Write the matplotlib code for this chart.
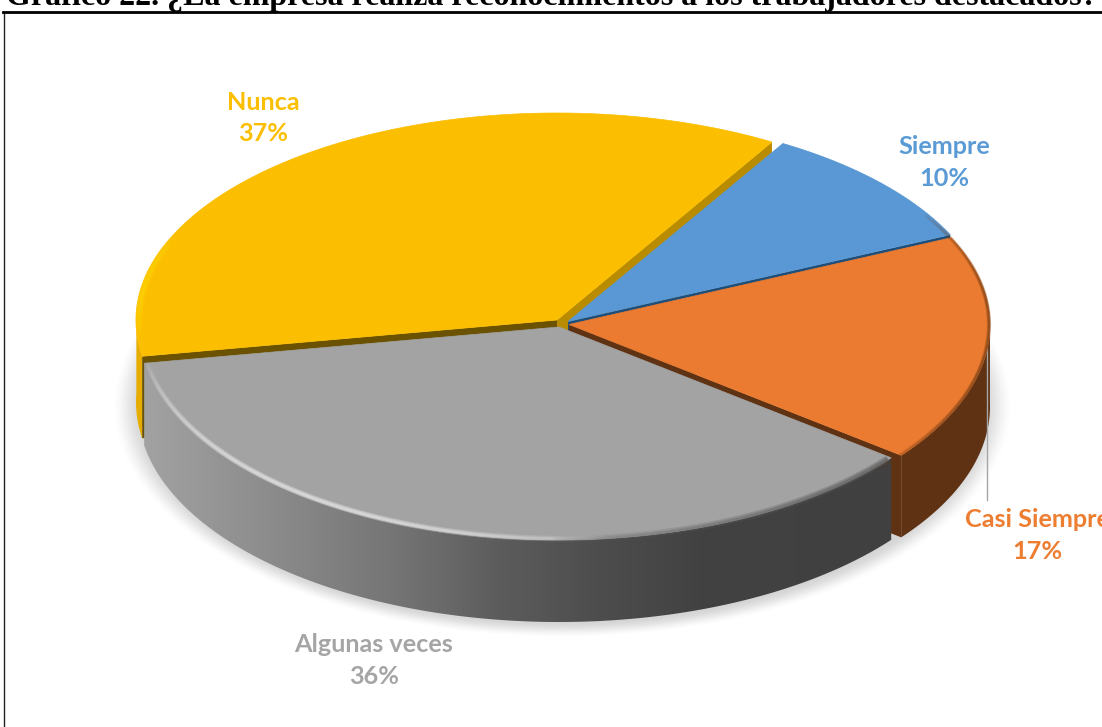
import numpy as np
import matplotlib
matplotlib.use("Agg")
import matplotlib.pyplot as plt
from matplotlib.colors import LinearSegmentedColormap
from matplotlib.patches import Polygon
from matplotlib.collections import LineCollection

# Survey answers, in drawing order clockwise from the first slice
categories = ["Siempre", "Casi Siempre", "Algunas veces", "Nunca"]
percentages = [10, 17, 36, 37]
top_colors = ["#5998D4", "#EB7B30", "#A3A3A3", "#FBBE00"]
label_colors = ["#5B9BD5", "#ED7D31", "#A5A5A5", "#FBBE00"]
cut_colors = ["#1F4E79", "#5F3213", "#5F5F5F", "#B98C00"]
title = "Gráfico 22. ¿La empresa realiza reconocimientos a los trabajadores destacados?"

W, H = 1102, 727
START = 30.7      # clockwise from 12 o'clock
DEPTH = 82
RX = 421
RY_BACK = 207
RY_FRONT = 213
# Where each exploded slice has its tip
tips = {"Siempre": (568, 321.5), "Casi Siempre": (569, 324.5),
        "Algunas veces": (559, 327), "Nunca": (557, 320)}
label_xy = {"Siempre": (944, 162.5), "Casi Siempre": (1037, 535.5),
            "Algunas veces": (374, 660.5), "Nunca": (263, 118)}
# The tilted view bends apparent angles a little (degrees in, offset out)
VIEW_ANGLE = [0, 31, 67, 128, 258, 360]
VIEW_SHIFT = [0, 0, -1.5, 0, 2.7, 0]

fig = plt.figure(figsize=(W / 100, H / 100), dpi=100, facecolor="white")
ax = fig.add_axes([0, 0, 1, 1])
ax.set_xlim(0, W)
ax.set_ylim(H, 0)
ax.axis("off")


def rim(tip, a, depth=0.0):
    a = np.asarray(a, float)
    a = np.radians(a + np.interp(a % 360, VIEW_ANGLE, VIEW_SHIFT))
    c = np.cos(a)
    ry = np.where(c > 0, RY_BACK, RY_FRONT)
    return np.column_stack([tip[0] + RX * np.sin(a), tip[1] - ry * c + depth])


def arc(a0, a1, n=200):
    return np.linspace(a0, a1, n)


# Soft shadow under the disc
gx, gy = np.meshgrid(np.arange(W), np.arange(H))
d = np.sqrt(((gx - 562) / 434) ** 2 + ((gy - 405) / 224) ** 2)
t = np.clip((1.04 - d) / 0.075, 0, 1)
shadow = np.zeros((H, W, 4))
shadow[..., 3] = 0.17 * t * t * (3 - 2 * t)
ax.imshow(shadow, extent=(0, W, H, 0), zorder=1, aspect="auto")
ax.set_xlim(0, W)
ax.set_ylim(H, 0)

# Slice angles follow the percentages
angles = START + np.concatenate([[0], np.cumsum(percentages)]) * 3.6
spans = {c: (angles[i], angles[i + 1]) for i, c in enumerate(categories)}


def wall(cat, a0, a1):
    tip = tips[cat]
    upper = rim(tip, arc(a0, a1))
    lower = rim(tip, arc(a1, a0), DEPTH)
    return np.vstack([upper, lower])


def cut(cat, a):
    tip = np.array(tips[cat], float)
    e = rim(tip, [a])[0]
    return np.array([tip, e, e + [0, DEPTH], tip + [0, DEPTH]])


z = 2
# Yellow slice: short outer wall on the left and two cut faces
a0, a1 = spans["Nunca"]
ax.add_patch(Polygon(wall("Nunca", a0, 270), fc="#E6AD00", ec="none", zorder=z))
ax.add_patch(Polygon(cut("Nunca", a0), fc="#6B5200", ec="none", zorder=z + 1))
ax.add_patch(Polygon(cut("Nunca", a1), fc="#B98C00", ec="none", zorder=z + 1))

# Blue and orange slices
a0, a1 = spans["Siempre"]
ax.add_patch(Polygon(cut("Siempre", a1), fc=cut_colors[0], ec="none", zorder=z + 1))
a0, a1 = spans["Casi Siempre"]
ax.add_patch(Polygon(wall("Casi Siempre", 90, a1), fc=cut_colors[1], ec="none", zorder=z + 2))
ax.add_patch(Polygon(cut("Casi Siempre", a1), fc=cut_colors[1], ec="none", zorder=z + 2))

# Grey slice wall with a horizontal light-to-dark ramp
a0, a1 = spans["Algunas veces"]
ramp = LinearSegmentedColormap.from_list(
    "wall", [(0, "#A2A2A2"), (0.21, "#868686"), (0.34, "#747474"), (0.476, "#5C5C5C"),
             (0.61, "#4D4D4D"), (0.745, "#424242"), (1, "#404040")])
outline = wall("Algunas veces", a0, a1)
im = ax.imshow(np.linspace(0, 1, 512)[None, :], cmap=ramp, vmin=0, vmax=1,
               extent=(outline[:, 0].min(), outline[:, 0].max(), H, 0), aspect="auto", zorder=z + 3)
clip = Polygon(outline, transform=ax.transData, fc="none", ec="none")
ax.add_patch(clip)
im.set_clip_path(clip)
ax.set_xlim(0, W)
ax.set_ylim(H, 0)

# Slice tops
for cat, col in zip(categories, top_colors):
    a0, a1 = spans[cat]
    tip = tips[cat]
    pts = np.vstack([[tip], rim(tip, arc(a0, a1))])
    ax.add_patch(Polygon(pts, fc=col, ec=col, lw=0.5, zorder=z + 5))


def glow(cat, a0, a1, color, peak, width, inset=3.0, one_sided=False):
    """Soft bevel line along a slice rim, fading towards its ends."""
    aa = arc(a0, a1, 160)
    pts = rim(tips[cat], aa)
    c = np.array(tips[cat], float)
    pts = c + (pts - c) * (1 - inset / RX)
    segs = np.stack([pts[:-1], pts[1:]], axis=1)
    if one_sided:
        fade = np.linspace(1, 0, len(segs)) ** 0.6 * peak
    else:
        fade = np.sin(np.linspace(0, np.pi, len(segs))) ** 0.7 * peak
    # Stacked strokes of growing width give the line a blurred edge
    for k, scale in enumerate([1.0, 0.6, 0.3]):
        rgba = np.tile(matplotlib.colors.to_rgba(color), (len(segs), 1))
        rgba[:, 3] = fade * 0.45
        ax.add_collection(LineCollection(segs, colors=rgba, linewidths=width * scale,
                                         zorder=z + 6 + 0.1 * k, capstyle="butt"))


# Bevel highlights and darkened rims
a0, a1 = spans["Algunas veces"]
glow("Algunas veces", 172, a1 + 1, "#E8E8E8", 0.9, 4.0)
glow("Algunas veces", a0 + 0.5, 180, "#5A5A5A", 0.8, 5.0, 1.5, one_sided=True)
glow("Nunca", 262, 292, "#FFD500", 0.9, 5.0)
a0, a1 = spans["Casi Siempre"]
glow("Casi Siempre", a0 - 8, a1 + 6, "#6E3A14", 0.75, 3.0, 1.0)

# Leader line from the orange slice to its label
ax.plot([987, 987], [348, 500], color="#A6A6A6", lw=1.0, zorder=z + 4)

# Category labels with percentages
for cat, pct, col in zip(categories, percentages, label_colors):
    x, y = label_xy[cat]
    ax.text(x, y, f"{cat}\n{pct}%", color=col, family="Lato", weight="bold", fontsize=18.2,
            ha="center", va="center", linespacing=1.45, zorder=z + 8)

# Frame and heading
ax.plot([4, 4], [13, H], color="#222222", lw=1.0, zorder=20)
ax.plot([3, W], [12, 12], color="black", lw=2.0, zorder=20)
ax.text(6, 5, title, family="Liberation Serif", weight="bold", fontsize=23.0, ha="left",
        va="baseline", color="black", zorder=21)

fig.savefig("out.png", dpi=100, facecolor="white")
